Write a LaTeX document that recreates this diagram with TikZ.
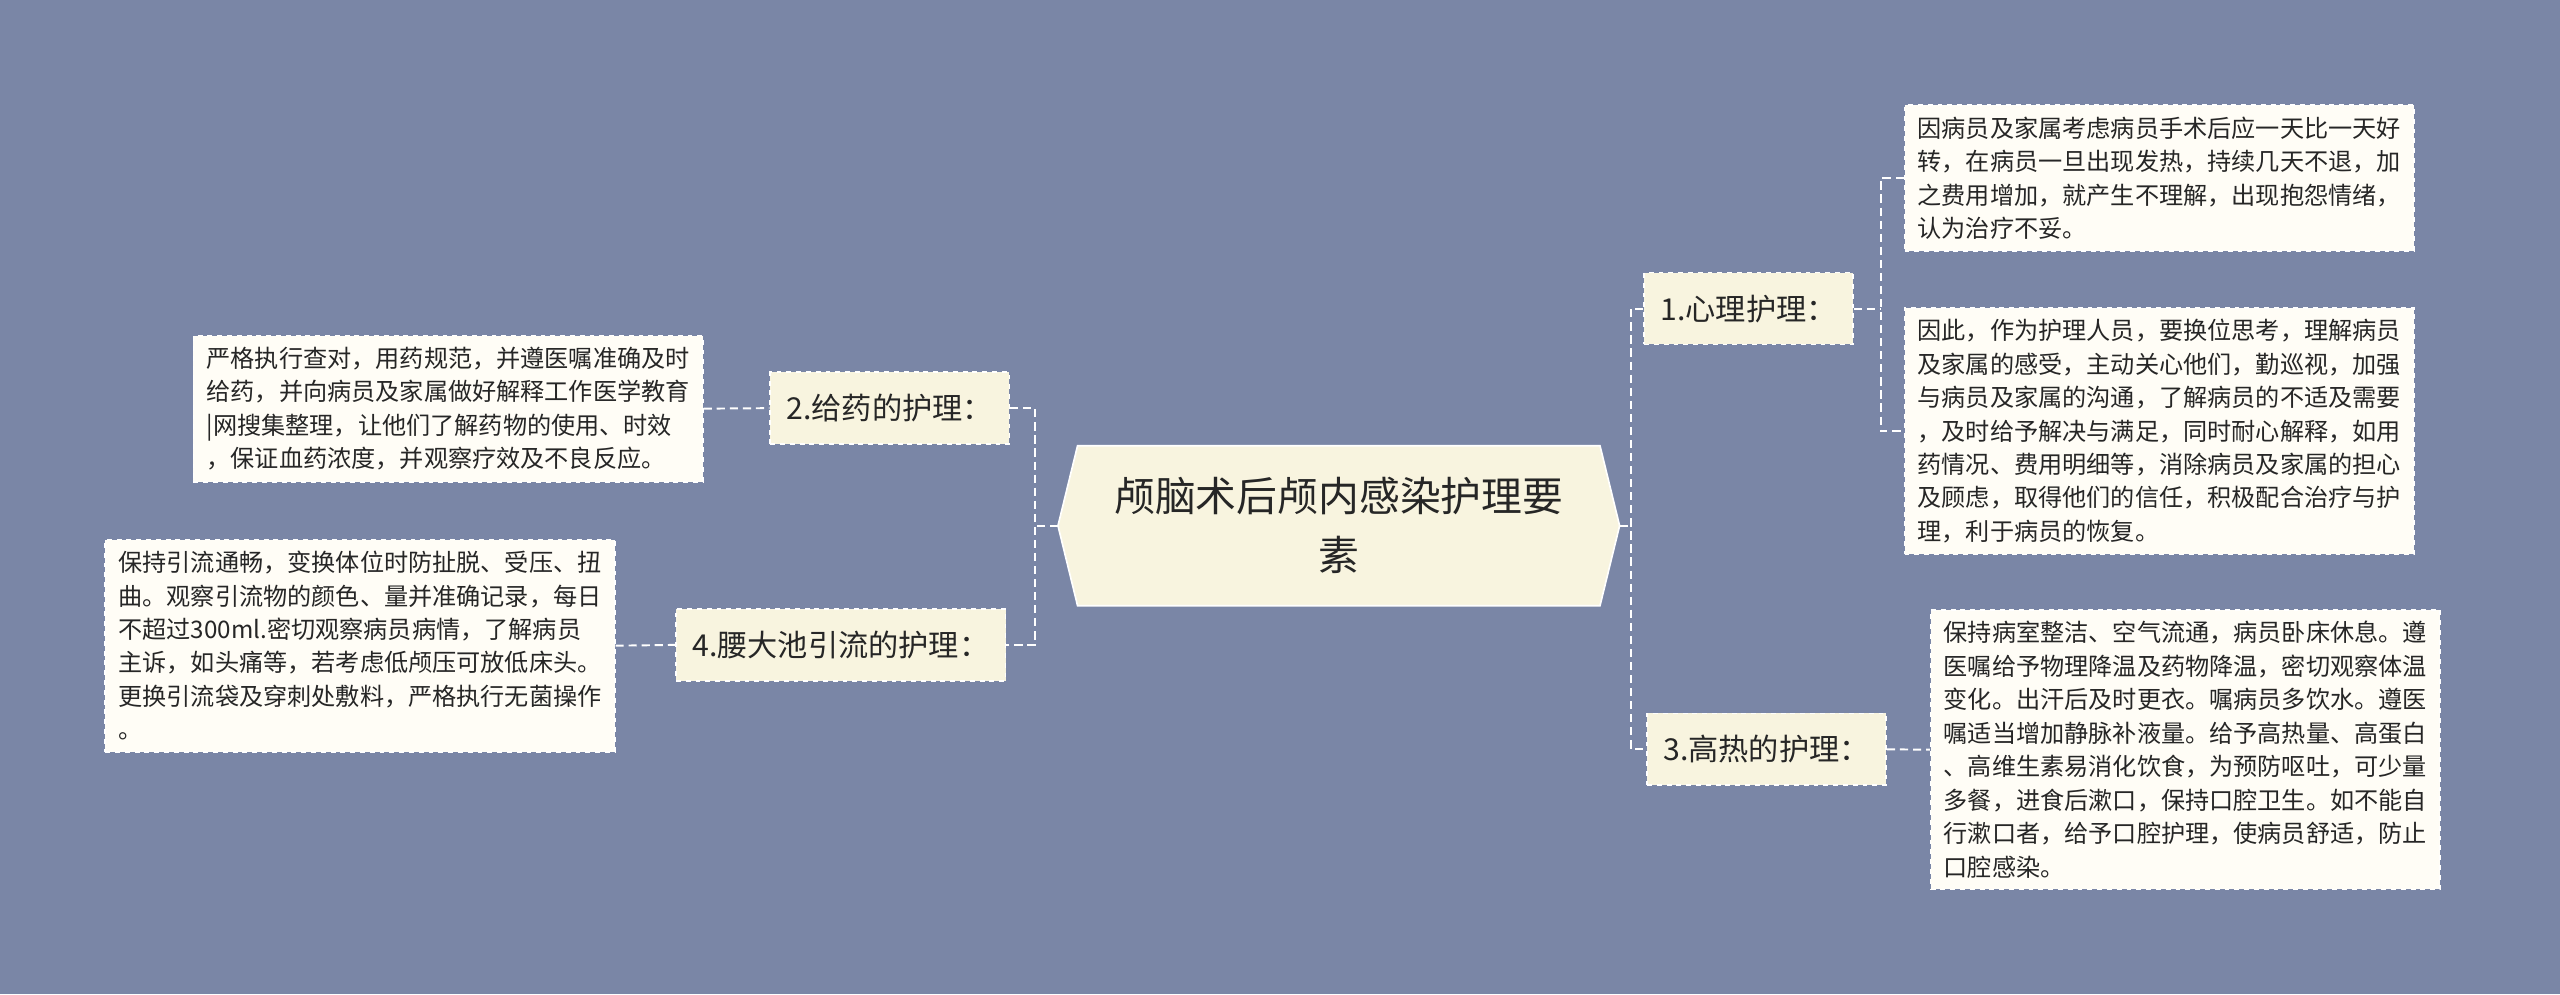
\documentclass[tikz,border=0pt]{standalone}
\usepackage{fontspec}
\setmainfont{Noto Sans CJK SC}
\begin{document}
\begin{tikzpicture}[x=1pt,y=-1pt,
  conn/.style={draw=white,dashed,line width=1.2pt,dash pattern=on 5pt off 3pt},
  branch/.style={draw=white,dashed,line width=1pt,fill=branchc,font=\fontsize{18.5}{22}\selectfont,text=black!85,inner xsep=10pt,minimum height=44pt,anchor=center},
  leaf/.style={draw=white,dashed,line width=1pt,fill=leafc,font=\fontsize{14.8}{20.5}\selectfont,text=black!85,align=left,inner xsep=8pt,inner ysep=7pt,anchor=north west}]
\definecolor{bg}{HTML}{7A86A6}
\definecolor{branchc}{HTML}{F8F4DF}
\definecolor{leafc}{HTML}{FFFDF6}
\fill[bg] (0,0) rectangle (1568,609);
\useasboundingbox (0,0) rectangle (1568,609);
% center
\filldraw[draw=white,line width=1pt,fill=branchc] (648,322)--(660,273)--(980,273)--(992,322)--(980,371)--(660,371)--cycle;
\node[font=\fontsize{25}{36}\selectfont,align=center,text=black!85] (c) at (820,322) {颅脑术后颅内感染护理要\\素};
\coordinate (cl) at (648,322); \coordinate (cr) at (992,322);
% branches
\node[branch] (b1) at (1071,189) {1.心理护理：};
\node[branch] (b3) at (1082,459) {3.高热的护理：};
\node[branch] (b2) at (545,250) {2.给药的护理：};
\node[branch] (b4) at (515,395) {4.腰大池引流的护理：};
% leaves
\node[leaf] (l1a) at (1166,64) {因病员及家属考虑病员手术后应一天比一天好\\转，在病员一旦出现发热，持续几天不退，加\\之费用增加，就产生不理解，出现抱怨情绪，\\认为治疗不妥。};
\node[leaf] (l1b) at (1166,188) {因此，作为护理人员，要换位思考，理解病员\\及家属的感受，主动关心他们，勤巡视，加强\\与病员及家属的沟通，了解病员的不适及需要\\，及时给予解决与满足，同时耐心解释，如用\\药情况、费用明细等，消除病员及家属的担心\\及顾虑，取得他们的信任，积极配合治疗与护\\理，利于病员的恢复。};
\node[leaf] (l3) at (1182,373) {保持病室整洁、空气流通，病员卧床休息。遵\\医嘱给予物理降温及药物降温，密切观察体温\\变化。出汗后及时更衣。嘱病员多饮水。遵医\\嘱适当增加静脉补液量。给予高热量、高蛋白\\、高维生素易消化饮食，为预防呕吐，可少量\\多餐，进食后漱口，保持口腔卫生。如不能自\\行漱口者，给予口腔护理，使病员舒适，防止\\口腔感染。};
\node[leaf] (l2) at (118,205) {严格执行查对，用药规范，并遵医嘱准确及时\\给药，并向病员及家属做好解释工作医学教育\\|网搜集整理，让他们了解药物的使用、时效\\，保证血药浓度，并观察疗效及不良反应。};
\node[leaf] (l4) at (64,330) {保持引流通畅，变换体位时防扯脱、受压、扭\\曲。观察引流物的颜色、量并准确记录，每日\\不超过300ml.密切观察病员病情，了解病员\\主诉，如头痛等，若考虑低颅压可放低床头。\\更换引流袋及穿刺处敷料，严格执行无菌操作\\。};
% connectors
\draw[conn] (cr) -- (999,322);
\draw[conn] (b1.west) -| (999,322) |- (b3.west);
\draw[conn] (cl) -- (634,322);
\draw[conn] (b2.east) -| (634,322) |- (b4.east);
\draw[conn] (b1.east) -- (1152,189);
\draw[conn] (l1a.west) -| (1152,189) |- (l1b.west);
\draw[conn] (b3.east) -- (l3.west);
\draw[conn] (l2.east) -- (b2.west);
\draw[conn] (l4.east) -- (b4.west);
\end{tikzpicture}
\end{document}
